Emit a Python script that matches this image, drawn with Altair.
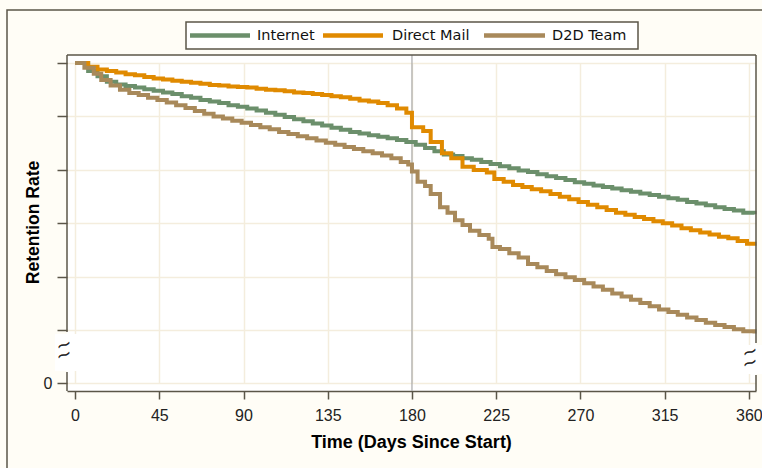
import altair as alt
import pandas as pd

series_names = ["Internet", "Direct Mail", "D2D Team"]
series_colors = ["#6b8f6b", "#e08a00", "#a8895a"]

internet_days = [0, 7, 12, 17, 22, 27, 32, 37, 42, 47, 52, 57, 62, 67, 72, 77, 82, 87, 92, 97,
                 102, 107, 112, 117, 122, 127, 132, 137, 142, 147, 152, 157, 162, 167, 172, 177,
                 182, 187, 192, 197, 202, 207, 212, 217, 222, 227, 232, 237, 242, 247, 252, 257,
                 262, 267, 272, 277, 282, 287, 292, 297, 302, 307, 312, 317, 322, 327, 332, 337,
                 342, 347, 352, 357, 363]
internet_rate = [1.000, 0.985, 0.975, 0.965, 0.960, 0.957, 0.954, 0.951, 0.948, 0.945, 0.942,
                 0.938, 0.935, 0.931, 0.928, 0.925, 0.921, 0.918, 0.915, 0.911, 0.907, 0.903,
                 0.899, 0.895, 0.891, 0.887, 0.883, 0.879, 0.875, 0.871, 0.868, 0.865, 0.862,
                 0.859, 0.856, 0.852, 0.847, 0.841, 0.835, 0.829, 0.826, 0.822, 0.819, 0.815,
                 0.811, 0.807, 0.803, 0.799, 0.796, 0.792, 0.788, 0.785, 0.781, 0.777, 0.774,
                 0.771, 0.768, 0.765, 0.762, 0.759, 0.756, 0.753, 0.750, 0.747, 0.744, 0.740,
                 0.737, 0.734, 0.730, 0.727, 0.724, 0.720, 0.717]

mail_days = [0, 7, 12, 17, 22, 27, 32, 37, 42, 47, 52, 57, 62, 67, 72, 77, 82, 87, 92, 97,
             102, 107, 112, 117, 122, 127, 132, 137, 142, 147, 152, 157, 162, 167, 172, 177,
             180, 186, 190, 196, 201, 207, 213, 220, 224, 229, 234, 239, 244, 249, 254, 259,
             264, 269, 274, 279, 284, 289, 294, 299, 304, 309, 314, 319, 324, 329, 334, 339,
             344, 349, 354, 359, 363]
mail_rate = [1.000, 0.993, 0.988, 0.985, 0.982, 0.979, 0.977, 0.974, 0.971, 0.969, 0.967,
             0.965, 0.963, 0.961, 0.959, 0.958, 0.956, 0.955, 0.954, 0.952, 0.950, 0.949,
             0.947, 0.945, 0.944, 0.942, 0.940, 0.938, 0.936, 0.933, 0.930, 0.928, 0.925,
             0.921, 0.915, 0.907, 0.880, 0.873, 0.852, 0.831, 0.822, 0.806, 0.800, 0.795,
             0.783, 0.778, 0.772, 0.768, 0.764, 0.760, 0.755, 0.750, 0.745, 0.740, 0.735,
             0.730, 0.725, 0.720, 0.716, 0.712, 0.708, 0.704, 0.700, 0.696, 0.691, 0.687,
             0.683, 0.679, 0.675, 0.672, 0.667, 0.662, 0.658]

d2d_days = [0, 5, 10, 14, 19, 24, 29, 34, 39, 44, 49, 54, 59, 64, 69, 74, 79, 84, 89, 94,
            99, 104, 109, 114, 119, 124, 129, 134, 139, 144, 149, 154, 159, 164, 169, 174,
            178, 180, 183, 187, 190, 195, 199, 203, 207, 211, 216, 221, 223, 227, 232, 237,
            242, 247, 252, 257, 262, 267, 272, 277, 282, 287, 292, 297, 302, 307, 312, 317,
            322, 327, 332, 337, 342, 347, 352, 357, 363]
d2d_rate = [1.000, 0.991, 0.980, 0.968, 0.958, 0.950, 0.944, 0.940, 0.935, 0.931, 0.926,
            0.921, 0.916, 0.910, 0.905, 0.900, 0.896, 0.892, 0.888, 0.884, 0.880, 0.876,
            0.871, 0.867, 0.863, 0.859, 0.855, 0.851, 0.847, 0.843, 0.839, 0.835, 0.831,
            0.827, 0.822, 0.815, 0.810, 0.797, 0.778, 0.770, 0.755, 0.730, 0.720, 0.706,
            0.697, 0.686, 0.678, 0.671, 0.656, 0.652, 0.644, 0.636, 0.624, 0.618, 0.611,
            0.605, 0.599, 0.594, 0.588, 0.582, 0.576, 0.569, 0.563, 0.557, 0.551, 0.545,
            0.539, 0.534, 0.529, 0.524, 0.519, 0.514, 0.510, 0.506, 0.502, 0.498, 0.494]

x_ticks = [0, 45, 90, 135, 180, 225, 270, 315, 360]
y_ticks = [0, 0.5, 0.6, 0.7, 0.8, 0.9, 1.0]
ref_day = 180

rows = []
for name, days, vals in [("Internet", internet_days, internet_rate),
                         ("Direct Mail", mail_days, mail_rate),
                         ("D2D Team", d2d_days, d2d_rate)]:
    for d, v in zip(days, vals):
        rows.append({"series": name, "day": d, "rate": v})
df = pd.DataFrame(rows)

FRAME = "#5b5648"
W, H = 689, 336

x_scale = alt.Scale(domain=[-4.3, 363.8], nice=False, zero=False)
y_scale = alt.Scale(domain=[0, 0.45, 1.0], range=[328, 302, 8], nice=False, zero=False)
c_scale = alt.Scale(domain=series_names, range=series_colors)

x_axis = alt.Axis(values=x_ticks, title="Time (Days Since Start)", grid=True,
                  gridColor="#f4eddd", gridWidth=1.5, domain=True, domainColor=FRAME,
                  domainWidth=1.5, tickColor=FRAME, tickWidth=1.5, tickSize=8,
                  labelFont="Liberation Sans", labelFontSize=16, labelColor="#222222",
                  labelPadding=8, titleFont="Liberation Sans", titleFontSize=18,
                  titleFontWeight="bold", titleColor="#000000", titleX=344, titleY=51,
                  titleBaseline="middle", titleAlign="center")
y_axis = alt.Axis(values=y_ticks, title="Retention Rate", grid=True,
                  gridColor="#f4eddd", gridWidth=1.5, domain=False,
                  tickColor=FRAME, tickWidth=1.5, tickSize=10,
                  labelExpr="datum.value == 0 ? '0' : ''",
                  labelFont="Liberation Sans", labelFontSize=16, labelColor="#222222",
                  labelPadding=5, titleFont="Liberation Sans", titleFontSize=17.5,
                  titleFontWeight="bold", titleColor="#000000", titleX=-34, titleY=167,
                  titleAngle=270, titleBaseline="middle", titleAlign="center")

one = pd.DataFrame({"k": [0]})

ref_rule = alt.Chart(one).mark_rule(color="#a8a8a8", strokeWidth=1.2).encode(
    x=alt.X(datum=ref_day, scale=x_scale, axis=x_axis),
    y=alt.value(0), y2=alt.value(H))


def series_line(name):
    return alt.Chart(df).transform_filter(alt.datum.series == name).mark_line(
        interpolate="step-after", strokeWidth=4).encode(
        x=alt.X("day:Q", scale=x_scale, axis=x_axis),
        y=alt.Y("rate:Q", scale=y_scale, axis=y_axis),
        color=alt.Color("series:N", scale=c_scale, legend=None))


def rule(x1, x2, y1, y2, color=FRAME, width=1.5):
    return alt.Chart(one).mark_rule(color=color, strokeWidth=width).encode(
        x=alt.value(x1), x2=alt.value(x2), y=alt.value(y1), y2=alt.value(y2))


def patch(x1, x2, y1, y2):
    return alt.Chart(one).mark_rect(color="white").encode(
        x=alt.value(x1), x2=alt.value(x2), y=alt.value(y1), y2=alt.value(y2))


def tilde(x, y):
    return alt.Chart(one).mark_text(text="~", font="DejaVu Sans", fontSize=19,
                                    angle=340, color="#222222",
                                    baseline="middle", align="center").encode(
        x=alt.value(x), y=alt.value(y))


def label(txt, x, y):
    return alt.Chart(one).mark_text(text=txt, font="DejaVu Sans", fontSize=14.5,
                                    color="#111111", baseline="middle",
                                    align="left").encode(
        x=alt.value(x), y=alt.value(y))


outer = alt.Chart(one).mark_rect(fill=None, stroke=FRAME, strokeWidth=1.5).encode(
    x=alt.value(-60), x2=alt.value(700), y=alt.value(-45), y2=alt.value(420))

legend_box = alt.Chart(one).mark_rect(fill="white", stroke=FRAME, strokeWidth=1.5).encode(
    x=alt.value(119), x2=alt.value(571), y=alt.value(-33), y2=alt.value(-6))

leg_y = -19.5
legend_sym_x = [(123, 183), (256, 316), (417, 478)]
legend_lab_x = [190, 325, 485]
legend = [legend_box]
for i, name in enumerate(series_names):
    x1, x2 = legend_sym_x[i]
    legend.append(rule(x1, x2, leg_y, leg_y, color=series_colors[i], width=4.5))
    legend.append(label(name, legend_lab_x[i], leg_y))

frame = [
    rule(0, W, 0, 0),
    rule(0, 0, 0, 277), rule(0, 0, 317, H),
    rule(W, W, 0, 288), rule(W, W, 320, H),
]
breaks = [
    patch(-12, 10, 279, 316), patch(680, 695, 290, 319),
    tilde(-3, 290), tilde(-3, 300),
    tilde(683, 297), tilde(683, 308),
]

chart = alt.layer(outer, ref_rule, *[series_line(n) for n in series_names],
                  *frame, *breaks, *legend).properties(
    width=W, height=H,
    autosize=alt.AutoSizeParams(type="none"),
    padding={"left": 67, "top": 55, "right": 6, "bottom": 77},
    background="#fffdf6",
).configure_view(fill="white", stroke=None)

chart.save("out.html", embed_options={"renderer": "svg", "actions": False})
